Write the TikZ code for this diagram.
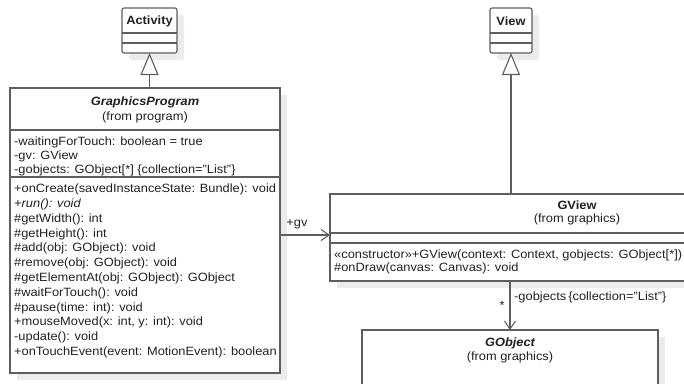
\documentclass[tikz,border=0pt]{standalone}
\usepackage{fontspec}
\setmainfont{Liberation Sans}[FakeStretch=1.07]
\usetikzlibrary{arrows.meta,shadows}
\definecolor{edgec}{HTML}{5E5E5E}
\definecolor{shadec}{HTML}{ECECEC}
\definecolor{textc}{HTML}{222222}
\begin{document}
\begin{tikzpicture}[x=1pt,y=-1pt,
  box/.style={draw=edgec, line width=1.1pt, fill=white, inner sep=0pt, outer sep=0pt,
    drop shadow={shadow xshift=7pt, shadow yshift=-7pt, fill=shadec, opacity=1}},
  divline/.style={draw=edgec, line width=1.1pt},
  txt/.style={font=\fontsize{12}{14.8}\selectfont, inner sep=0pt, text=textc},
  ltxt/.style={txt, anchor=west, align=left},
  btitle/.style={font=\fontsize{12}{14}\selectfont\bfseries, inner sep=0pt, text=textc},
  bititle/.style={font=\fontsize{12}{14}\selectfont\bfseries\itshape, inner sep=0pt, text=textc},
  gen/.style={draw=edgec, line width=1.1pt, -{Triangle[open, length=22pt, width=18pt, fill=white]}},
  assoc/.style={draw=edgec, line width=1.1pt, -{Straight Barb[length=8pt, width=11pt]}}]
\useasboundingbox (0,0) rectangle (684,383);
\clip (0,0) rectangle (684,383);

% Activity
\node[box, rounded corners=2pt, minimum width=55pt, minimum height=45pt, anchor=north west] (act) at (122,8) {};
\node[btitle] (actT) at (149.5,21) {Activity};
\draw[divline] (act.west |- 0,33) -- (act.east |- 0,33);
\draw[divline] (act.west |- 0,43) -- (act.east |- 0,43);

% View
\node[box, rounded corners=2pt, minimum width=42pt, minimum height=45pt, anchor=north west] (view) at (490,8) {};
\node[btitle] (viewT) at (511,21) {View};
\draw[divline] (view.west |- 0,33) -- (view.east |- 0,33);
\draw[divline] (view.west |- 0,43) -- (view.east |- 0,43);

% GraphicsProgram
\node[box, minimum width=270pt, minimum height=285pt, anchor=north west] (gp) at (10,88) {};
\node[bititle] (gpT) at (145,102) {GraphicsProgram};
\node[txt] (gpS) at (145,117) {(from program)};
\draw[divline] (gp.west |- 0,130) -- (gp.east |- 0,130);
\node[ltxt] (gpA1) at (14,142) {-waitingForTouch: boolean = true};
\node[ltxt] (gpA2) at (14,156) {-gv: GView};
\node[ltxt] (gpA3) at (14,170) {-gobjects: GObject[*] \{collection="List"\}};
\draw[divline] (gp.west |- 0,177) -- (gp.east |- 0,177);
\node[ltxt] (m1) at (14,189.5) {+onCreate(savedInstanceState: Bundle): void};
\node[ltxt] (m2) at (14,204.3) {\itshape +run(): void};
\node[ltxt] (m3) at (14,219.1) {\#getWidth(): int};
\node[ltxt] (m4) at (14,233.9) {\#getHeight(): int};
\node[ltxt] (m5) at (14,248.7) {\#add(obj: GObject): void};
\node[ltxt] (m6) at (14,263.5) {\#remove(obj: GObject): void};
\node[ltxt] (m7) at (14,278.3) {\#getElementAt(obj: GObject): GObject};
\node[ltxt] (m8) at (14,293.1) {\#waitForTouch(): void};
\node[ltxt] (m9) at (14,307.9) {\#pause(time: int): void};
\node[ltxt] (m10) at (14,322.7) {+mouseMoved(x: int, y: int): void};
\node[ltxt] (m11) at (14,337.5) {-update(): void};
\node[ltxt] (m12) at (14,352.3) {+onTouchEvent(event: MotionEvent): boolean};

% GView
\node[box, minimum width=494pt, minimum height=87pt, anchor=north west] (gv) at (330,194) {};
\node[btitle] (gvT) at (577,205) {GView};
\node[txt] (gvS) at (577,219) {(from graphics)};
\draw[divline] (gv.west |- 0,233) -- (gv.east |- 0,233);
\draw[divline] (gv.west |- 0,243) -- (gv.east |- 0,243);
\node[ltxt] (gvM1) at (334,255) {«constructor»+GView(context: Context, gobjects: GObject[*])};
\node[ltxt] (gvM2) at (334,268.5) {\#onDraw(canvas: Canvas): void};

% GObject
\node[box, minimum width=296pt, minimum height=100pt, anchor=north west] (go) at (362,330) {};
\node[bititle] (goT) at (510,343) {GObject};
\node[txt] (goS) at (510,357) {(from graphics)};

% generalizations
\draw[gen] (gp.north -| act.south) -- (act.south);
\draw[gen] (gv.north -| view.south) -- (view.south);

% associations
\coordinate (gvy) at (0,235);
\draw[assoc] (gp.east |- gvy) -- (gv.west |- gvy);
\node[txt] (gvLab) at (297,224) {+gv};
\draw[assoc] (gv.south -| go.north) -- (go.north);
\node[ltxt] (goLab) at (514,297) {-gobjects\,\{collection="List"\}};
\node[txt] (goMult) at (502,305) {*};
\end{tikzpicture}
\end{document}
